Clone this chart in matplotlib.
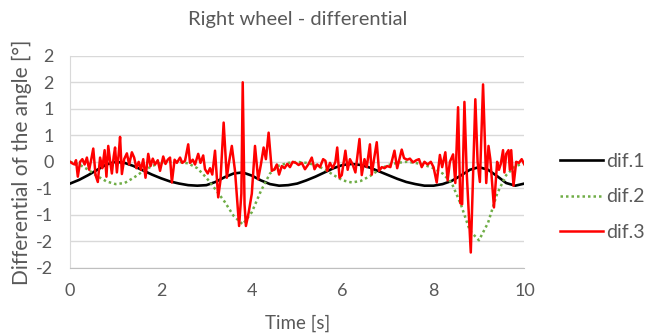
import numpy as np
import matplotlib
matplotlib.use("Agg")
import matplotlib.pyplot as plt

plt.rcParams['font.family'] = ['Lato', 'DejaVu Sans']

# ---------------------------------------------------------
# Data
# ---------------------------------------------------------
# dif.1 and dif.2 sampled every 0.2 s
t_smooth = np.linspace(0, 10, 51)
dif1 = [-0.41, -0.34, -0.25, -0.15, -0.05, 0.00, -0.02, -0.08, -0.16, -0.24,
        -0.31, -0.37, -0.41, -0.44, -0.45, -0.44, -0.38, -0.29, -0.22, -0.20,
        -0.26, -0.35, -0.42, -0.45, -0.44, -0.41, -0.35, -0.28, -0.20, -0.12,
        -0.06, -0.04, -0.06, -0.11, -0.18, -0.25, -0.32, -0.38, -0.42, -0.45,
        -0.45, -0.42, -0.36, -0.26, -0.15, -0.10, -0.15, -0.27, -0.40, -0.45,
        -0.41]
dif2 = [0.00, -0.05, -0.15, -0.27, -0.37, -0.42, -0.40, -0.30, -0.18, -0.08,
        -0.02, 0.00, 0.00, -0.03, -0.12, -0.30, -0.52, -0.75, -1.02, -1.18,
        -0.95, -0.55, -0.22, -0.07, -0.02, 0.00, -0.02, -0.06, -0.14, -0.25,
        -0.35, -0.39, -0.36, -0.27, -0.15, -0.06, -0.02, 0.00, -0.02, -0.06,
        -0.12, -0.22, -0.40, -0.80, -1.30, -1.48, -1.15, -0.60, -0.25, -0.08,
        -0.03]

# dif.3 (noisy signal)
t_dif3 = [0.00, 0.05, 0.10, 0.13, 0.17, 0.22, 0.27, 0.32, 0.37, 0.42,
          0.46, 0.51, 0.56, 0.61, 0.66, 0.71, 0.76, 0.80, 0.84, 0.88,
          0.92, 0.96, 0.99, 1.03, 1.07, 1.10, 1.14, 1.19, 1.25, 1.30,
          1.36, 1.41, 1.46, 1.51, 1.56, 1.61, 1.66, 1.72, 1.77, 1.82,
          1.87, 1.93, 1.98, 2.05, 2.10, 2.15, 2.20, 2.24, 2.30, 2.35,
          2.42, 2.47, 2.53, 2.60, 2.64, 2.70, 2.75, 2.82, 2.87, 2.93,
          2.97, 3.03, 3.08, 3.13, 3.19, 3.26, 3.31, 3.38, 3.45, 3.49,
          3.56, 3.63, 3.72, 3.77, 3.80, 3.84, 3.87, 3.93, 4.00, 4.07,
          4.14, 4.20, 4.26, 4.31, 4.37, 4.44, 4.50, 4.55, 4.60, 4.66,
          4.72, 4.78, 4.84, 4.90, 4.97, 5.03, 5.10, 5.17, 5.25, 5.32,
          5.38, 5.44, 5.50, 5.57, 5.62, 5.66, 5.72, 5.78, 5.84, 5.88,
          5.93, 5.98, 6.06, 6.11, 6.16, 6.22, 6.28, 6.37, 6.42, 6.48,
          6.53, 6.60, 6.64, 6.69, 6.75, 6.80, 6.86, 6.92, 6.98, 7.05,
          7.14, 7.20, 7.30, 7.35, 7.42, 7.48, 7.55, 7.62, 7.68, 7.74,
          7.80, 7.87, 7.94, 8.00, 8.07, 8.14, 8.19, 8.26, 8.31, 8.36,
          8.43, 8.48, 8.54, 8.59, 8.63, 8.68, 8.73, 8.82, 8.92, 8.97,
          9.02, 9.09, 9.16, 9.21, 9.25, 9.33, 9.40, 9.44, 9.48, 9.53,
          9.56, 9.60, 9.65, 9.68, 9.71, 9.76, 9.82, 9.88, 9.94, 10.00]
dif3 = [0.00, -0.03, -0.05, 0.03, -0.28, 0.00, 0.05, -0.05, 0.08, -0.15,
        0.02, 0.25, -0.25, -0.38, 0.08, -0.12, 0.22, -0.28, 0.30, 0.02,
        -0.22, 0.10, 0.27, -0.20, 0.15, 0.47, -0.23, 0.05, 0.16, -0.05,
        0.18, 0.08, -0.12, 0.00, -0.15, 0.05, -0.30, 0.15, -0.08, 0.06,
        -0.05, 0.03, -0.17, 0.10, -0.04, 0.04, 0.08, -0.39, 0.04, -0.02,
        0.08, -0.02, 0.02, 0.33, -0.02, 0.04, -0.05, 0.15, -0.02, 0.12,
        -0.14, -0.22, -0.12, -0.24, 0.21, -0.67, -0.35, 0.74, -0.30, -0.05,
        0.30, -0.17, -1.21, -0.60, 1.50, -0.80, -1.21, -0.96, -0.60, 0.30,
        -0.33, -0.05, 0.27, 0.05, 0.55, -0.17, -0.14, -0.05, -0.24, -0.08,
        -0.12, -0.04, -0.10, 0.00, -0.02, -0.06, -0.02, -0.14, -0.04, 0.08,
        -0.14, -0.05, -0.10, 0.05, 0.02, -0.17, -0.02, -0.12, 0.00, 0.27,
        -0.30, -0.25, 0.21, -0.15, 0.05, -0.05, -0.20, 0.43, -0.25, 0.05,
        -0.10, 0.33, -0.24, 0.05, 0.37, -0.17, -0.10, -0.12, -0.08, -0.10,
        0.21, -0.12, 0.23, 0.07, 0.04, 0.06, -0.01, 0.03, 0.05, -0.10,
        0.00, -0.05, 0.00, -0.10, -0.39, 0.13, -0.10, 0.18, -0.35, 0.00,
        0.14, -0.40, 1.03, -0.78, -0.80, 1.13, -0.20, -1.71, 1.18, 0.00,
        -0.38, 1.46, -0.40, 0.30, 0.05, -0.86, 0.00, -0.15, -0.04, 0.22,
        -0.20, 0.15, 0.22, -0.15, 0.22, -0.45, 0.00, -0.02, 0.05, -0.05]

y_ticks = [-2, -1.5, -1, -0.5, 0, 0.5, 1, 1.5, 2]
y_tick_labels = ['-2', '-2', '-1', '-1', '0', '1', '1', '2', '2']
x_ticks = [0, 2, 4, 6, 8, 10]

# ---------------------------------------------------------
# Plot
# ---------------------------------------------------------
txt = '#595959'
fig = plt.figure(figsize=(6.49, 3.34), dpi=100)
ax = fig.add_axes([0.108, 0.198, 0.700, 0.635])

ax.plot(t_smooth, dif1, color='black', lw=1.9, label='dif.1', zorder=3)
ax.plot(t_smooth, dif2, color='#70AD47', lw=1.8, linestyle=(0, (1, 1.2)),
        label='dif.2', zorder=3)
ax.plot(t_dif3, dif3, color='#FF0000', lw=1.8, label='dif.3', zorder=4)

ax.set_xlim(0, 10)
ax.set_ylim(-2, 2)
ax.set_xticks(x_ticks)
ax.set_yticks(y_ticks)
ax.set_yticklabels(y_tick_labels)
ax.tick_params(length=0, labelsize=13, colors=txt)
ax.tick_params(axis='y', pad=12)
ax.tick_params(axis='x', pad=11)

ax.grid(axis='y', color='#D9D9D9', lw=1)
ax.set_axisbelow(True)
for s in ['top', 'right']:
    ax.spines[s].set_visible(False)
ax.spines['left'].set_color('#D9D9D9')
ax.spines['bottom'].set_color('#BFBFBF')

ax.set_title('Right wheel - differential', fontsize=14.5, color=txt, pad=22)
ax.set_xlabel('Time [s]', fontsize=13.5, color=txt, labelpad=11)
ax.set_ylabel('Differential of the angle [°]', fontsize=15, color=txt, labelpad=3)

ax.legend(loc='center left', bbox_to_anchor=(1.078, 0.335), frameon=False,
          fontsize=14, labelcolor=txt, handlelength=2.2, handletextpad=0.2,
          labelspacing=0.95, borderaxespad=0, borderpad=0)

plt.savefig('out.png', dpi=100)
